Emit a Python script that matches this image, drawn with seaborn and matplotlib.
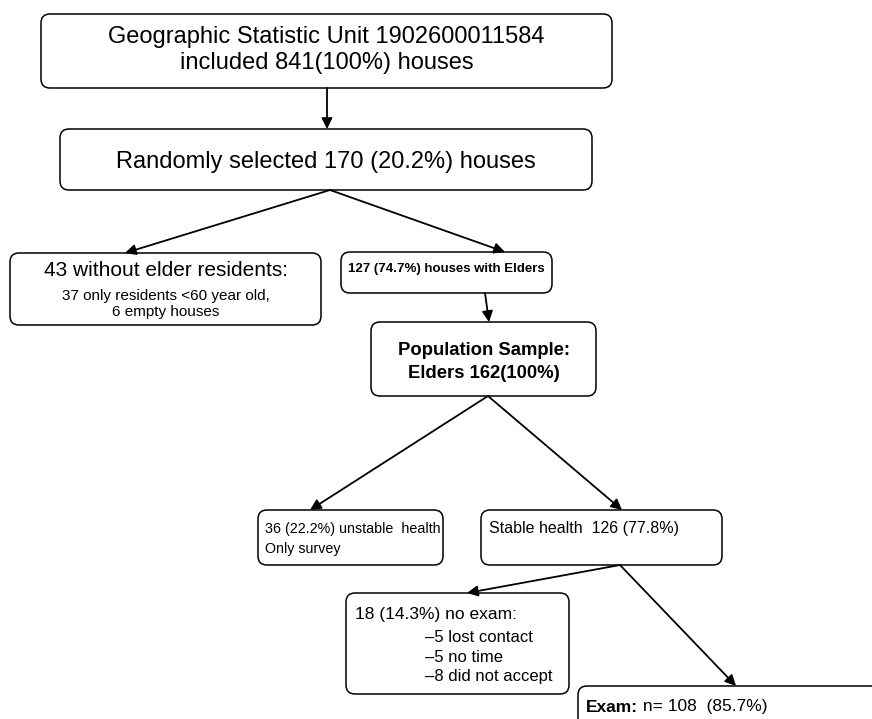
import matplotlib
matplotlib.use("Agg")
import matplotlib.pyplot as plt
import seaborn as sns
from matplotlib.patches import FancyBboxPatch, FancyArrowPatch

sns.set_theme(style="white")
plt.rcParams['font.family'] = ['Liberation Sans', 'DejaVu Sans']
plt.rcParams['text.color'] = 'black'

# ---- content ----
box_ids = ["unit", "random", "noelder", "elders", "sample", "unstable", "stable", "noexam", "exam"]
box_texts = [
    "Geographic Statistic Unit 1902600011584\nincluded 841(100%) houses",
    "Randomly selected 170 (20.2%) houses",
    None,
    "127 (74.7%) houses with Elders",
    "Population Sample:\nElders 162(100%)",
    "36 (22.2%) unstable  health\nOnly survey",
    "Stable health  126 (77.8%)",
    None,
    None,
]
noelder_head = "43 without elder residents:"
noelder_sub = "37 only residents <60 year old,\n6 empty houses"
noexam_head = "18 (14.3%) no exam:"
noexam_sub = ["\u20135 lost contact", "\u20135 no time", "\u20138 did not accept"]
exam_bold = "Exam:"
exam_rest = " n= 108  (85.7%)"

# ---- layout (pixel coords, y downwards) ----
boxes = {
    "unit": (41, 14, 612, 88),
    "random": (60, 129, 592, 190),
    "noelder": (10, 253, 321, 325),
    "elders": (341, 252, 552, 293),
    "sample": (371, 322, 596, 396),
    "unstable": (258, 510, 443, 565),
    "stable": (481, 510, 722, 565),
    "noexam": (346, 593, 569, 694),
    "exam": (578, 686, 900, 760),
}
arrows = [
    ((327, 88), (327, 129)),
    ((330, 190), (125, 253)),
    ((330, 190), (505, 252)),
    ((485, 293), (489, 322)),
    ((488, 396), (310, 510)),
    ((488, 396), (622, 510)),
    ((620, 565), (467, 593)),
    ((620, 565), (736, 686)),
]

fig = plt.figure(figsize=(8.72, 7.19), dpi=100)
ax = fig.add_axes([0, 0, 1, 1])
ax.set_xlim(0, 872)
ax.set_ylim(719, 0)
ax.axis("off")
sns.despine(ax=ax, left=True, bottom=True)

for key, (x0, y0, x1, y1) in boxes.items():
    p = FancyBboxPatch((x0, y0), x1 - x0, y1 - y0,
                       boxstyle="round,pad=0,rounding_size=9",
                       fc="white", ec="black", lw=1.1, zorder=2)
    ax.add_patch(p)

for (s, e) in arrows:
    a = FancyArrowPatch(s, e, arrowstyle="-|>", mutation_scale=16,
                        color="black", lw=1.3, shrinkA=0, shrinkB=0, zorder=3)
    ax.add_patch(a)

txt = dict(zip(box_ids, box_texts))

def cx(k):
    b = boxes[k]
    return (b[0] + b[2]) / 2

ax.text(cx("unit"), 50, txt["unit"], ha="center", va="center", fontsize=17,
        linespacing=1.2, zorder=4)
ax.text(cx("random"), 162, txt["random"], ha="center", va="center", fontsize=17, zorder=4)
ax.text(166, 271, noelder_head, ha="center", va="center", fontsize=15, zorder=4)
ax.text(166, 304, noelder_sub, ha="center", va="center", fontsize=11,
        linespacing=1.15, zorder=4)
ax.text(cx("elders"), 269, txt["elders"], ha="center", va="center", fontsize=9.5,
        fontweight="bold", zorder=4)
ax.text(cx("sample"), 362, txt["sample"], ha="center", va="center", fontsize=13.3,
        fontweight="bold", linespacing=1.45, zorder=4)
ax.text(265, 539, txt["unstable"], ha="left", va="center", fontsize=10.3,
        linespacing=1.5, zorder=4)
ax.text(489, 529, txt["stable"], ha="left", va="center", fontsize=11.5, zorder=4)
ax.text(355, 614, noexam_head, ha="left", va="center", fontsize=12.5, zorder=4)
for i, s in enumerate(noexam_sub):
    ax.text(425, 638 + i * 19.5, s, ha="left", va="center", fontsize=12.0, zorder=4)
tb = ax.text(586, 707, exam_bold, ha="left", va="center", fontsize=12.5,
             fontweight="bold", zorder=4)
fig.canvas.draw()
bb = tb.get_window_extent()
x_end = ax.transData.inverted().transform((bb.x1, bb.y0))[0]
ax.text(x_end, 707, exam_rest, ha="left", va="center", fontsize=12.5, zorder=4)

fig.savefig("out.png", dpi=100)
